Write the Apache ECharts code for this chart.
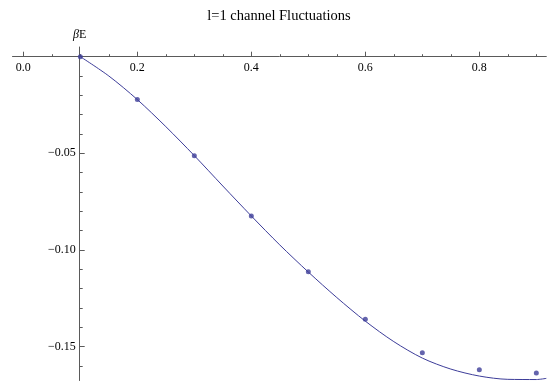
<!DOCTYPE html>
<html>
<head>
<meta charset="utf-8">
<script src="https://cdn.jsdelivr.net/npm/echarts@6/dist/echarts.min.js"></script>
<style>
  html, body {margin: 0; padding: 0; background: #fff;}
  #chart {width: 558px; height: 381px;}
</style>
</head>
<body>
<div id="chart"></div>
<script>
// sampled values (beta, E)
const pointX = [0.1, 0.2, 0.3, 0.4, 0.5, 0.6, 0.7, 0.8, 0.9];
const pointY = [0, -0.0222, -0.0512, -0.0824, -0.1112, -0.1358, -0.1531, -0.1619, -0.1636];

// fitted curve
const curveX = [0.1, 0.15, 0.2, 0.25, 0.3, 0.35, 0.4, 0.45, 0.5, 0.55, 0.6, 0.65, 0.7, 0.75, 0.8, 0.85, 0.9, 0.9175];
const curveY = [0, -0.0100, -0.0222, -0.0362, -0.0512, -0.0669, -0.0824, -0.0974, -0.1114, -0.1246, -0.1368, -0.1474, -0.1559, -0.1616, -0.1652, -0.1669, -0.1670, -0.1664];

const xTicks = [0, 0.2, 0.4, 0.6, 0.8];
const yTicks = [-0.15, -0.1, -0.05];

const serif = '"Liberation Serif", "DejaVu Serif", serif';
const axisColor = '#5a5a5a';
const markColor = '#3d3d99';

const chart = echarts.init(document.getElementById('chart'));
chart.setOption({
  animation: false,
  title: {
    text: 'l=1 channel Fluctuations',
    left: 'center',
    top: 4,
    textStyle: {fontFamily: serif, fontSize: 14.5, fontWeight: 'normal', color: '#000'}
  },
  grid: {left: 12.5, right: 11.7, top: 47, bottom: 0.5},
  xAxis: {
    type: 'value',
    min: -0.019,
    max: 0.9175,
    splitNumber: 5,
    position: 'bottom',
    offset: -323.8,
    axisLine: {onZero: false, lineStyle: {color: axisColor, width: 1}},
    axisTick: {inside: true, length: 5, customValues: xTicks, lineStyle: {color: axisColor}},
    minorTick: {show: true, splitNumber: 4, length: 2.5, lineStyle: {color: axisColor}},
    axisLabel: {
      customValues: xTicks,
      margin: 5,
      fontFamily: serif,
      fontSize: 12,
      color: '#000',
      formatter: v => v.toFixed(1)
    },
    splitLine: {show: false}
  },
  yAxis: {
    type: 'value',
    min: -0.1675,
    max: 0.005,
    splitNumber: 4,
    offset: -67.2,
    name: '{i|β}E',
    nameLocation: 'end',
    nameGap: 6,
    nameTextStyle: {
      fontFamily: serif, fontSize: 12, color: '#000',
      rich: {i: {fontFamily: serif, fontSize: 12, fontStyle: 'italic', color: '#000'}}
    },
    axisLine: {show: true, onZero: false, lineStyle: {color: axisColor, width: 1}},
    axisTick: {show: true, inside: true, length: 5, customValues: yTicks, lineStyle: {color: axisColor}},
    minorTick: {show: true, splitNumber: 5, length: 3, lineStyle: {color: axisColor}},
    axisLabel: {
      customValues: yTicks,
      margin: 4,
      fontFamily: serif,
      fontSize: 12,
      color: '#000',
      formatter: v => v.toFixed(2).replace('-', '\u2212')
    },
    splitLine: {show: false}
  },
  series: [
    {
      name: 'fit',
      type: 'line',
      data: curveX.map((x, i) => [x, curveY[i]]),
      smooth: 0.3,
      symbol: 'none',
      lineStyle: {color: markColor, width: 1}
    },
    {
      name: 'data',
      type: 'scatter',
      data: pointX.map((x, i) => [x, pointY[i]]),
      symbol: 'circle',
      symbolSize: 5,
      itemStyle: {color: markColor}
    }
  ]
});
</script>
</body>
</html>
